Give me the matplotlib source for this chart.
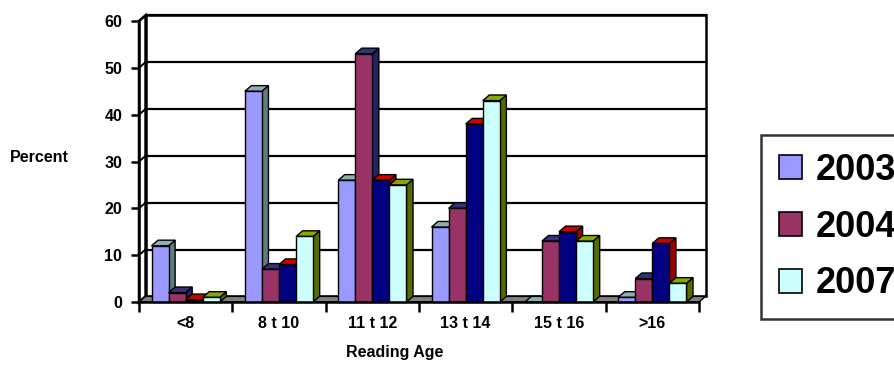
import matplotlib
matplotlib.use("Agg")
import matplotlib.pyplot as plt
from matplotlib.patches import Polygon, Patch

# reading age survey, percent of pupils per band
categories = ['<8', '8 t 10', '11 t 12', '13 t 14', '15 t 16', '>16']
series_names = ['2003', '2004', '2005', '2007']
v2003 = [12, 45, 26, 16, 0, 1]
v2004 = [2, 7, 53, 20, 13, 5]
v2005 = [0.5, 8, 26, 38, 15, 12.5]
v2007 = [1, 14, 25, 43, 13, 4]
values = [v2003, v2004, v2005, v2007]

# front, top, side colours (old excel 3d look)
front = ['#9999FF', '#993366', '#000080', '#CCFFFF']
top = ['#8FAFAF', '#333377', '#CC0000', '#88AA00']
side = ['#5F7F7F', '#222266', '#990000', '#556B00']
in_legend = [True, True, False, True]

font = 'Liberation Sans'

fig = plt.figure(figsize=(8.95, 3.65), dpi=100)
ax = fig.add_axes([139 / 895, 1 - 302 / 365, 560 / 895, 281 / 365])
ax.set_xlim(-0.5, 5.5)
ax.set_ylim(0, 60)

dx = 0.07   # depth offset in x (data units)
dy = 1.2    # depth offset in y (data units)
lw = 1.0

# back wall
wall = Polygon([(-0.5 + dx, dy), (5.5 + dx, dy), (5.5 + dx, 60 + dy), (-0.5 + dx, 60 + dy)],
               closed=True, fc='white', ec='black', lw=1.8, clip_on=False, zorder=1)
ax.add_patch(wall)
# left wall
lwall = Polygon([(-0.5, 0), (-0.5 + dx, dy), (-0.5 + dx, 60 + dy), (-0.5, 60)],
                closed=True, fc='white', ec='black', lw=1.8, clip_on=False, zorder=1)
ax.add_patch(lwall)
for g in range(10, 61, 10):
    ax.plot([-0.5 + dx, 5.5 + dx], [g + dy, g + dy], color='black', lw=1.6,
            clip_on=False, zorder=1.2)
    ax.plot([-0.5, -0.5 + dx], [g, g + dy], color='black', lw=1.4,
            clip_on=False, zorder=1.2)

# floor
floor = Polygon([(-0.5, 0), (5.5, 0), (5.5 + dx, dy), (-0.5 + dx, dy)],
                closed=True, fc='#808080', ec='black', lw=1.0, clip_on=False, zorder=1.5)
ax.add_patch(floor)

# bars
w = 0.183
n = len(values)
for i in range(len(categories)):
    x_start = i - n * w / 2
    for s in range(n):
        v = values[s][i]
        x0 = x_start + s * w
        z = 2 + s * 0.01
        ax.add_patch(Polygon([(x0 + w, 0), (x0 + w + dx, dy), (x0 + w + dx, v + dy), (x0 + w, v)],
                             closed=True, fc=side[s], ec='black', lw=lw, clip_on=False, zorder=z))
        ax.add_patch(Polygon([(x0, v), (x0 + w, v), (x0 + w + dx, v + dy), (x0 + dx, v + dy)],
                             closed=True, fc=top[s], ec='black', lw=lw, clip_on=False, zorder=z))
        ax.add_patch(Polygon([(x0, 0), (x0 + w, 0), (x0 + w, v), (x0, v)],
                             closed=True, fc=front[s], ec='black', lw=lw, clip_on=False, zorder=z))

# axes
ax.patch.set_visible(False)
for sp in ['top', 'right']:
    ax.spines[sp].set_visible(False)
for sp in ['left', 'bottom']:
    ax.spines[sp].set_linewidth(1.8)
    ax.spines[sp].set_zorder(3)

ax.set_yticks(range(0, 61, 10))
ax.tick_params(axis='y', length=6, width=1.8, pad=6)
ax.set_xticks(range(len(categories)))
ax.set_xticklabels(categories)
ax.set_xticks([i - 0.5 for i in range(len(categories) + 1)], minor=True)
ax.tick_params(axis='x', which='major', length=0, pad=10)
ax.tick_params(axis='x', which='minor', length=7, width=1.8)
for t in ax.get_xticklabels() + ax.get_yticklabels():
    t.set_family(font)
    t.set_fontweight('bold')
    t.set_fontsize(11.5)

fig.text(10 / 895, 1 - 158 / 365, 'Percent', family=font, fontweight='bold',
         fontsize=11.5, va='center', ha='left')
fig.text(395 / 895, 1 - 353 / 365, 'Reading Age', family=font, fontweight='bold',
         fontsize=11.5, va='center', ha='center')

handles = [Patch(fc=front[s], ec='black', lw=1.2) for s in range(n) if in_legend[s]]
labels = [series_names[s] for s in range(n) if in_legend[s]]
leg = fig.legend(handles, labels, loc='upper left', bbox_to_anchor=(761 / 895, 1 - 135 / 365),
                 prop={'weight': 'bold', 'size': 26, 'family': font},
                 frameon=True, fancybox=False, edgecolor='black', handlelength=0.64,
                 handleheight=0.64, handletextpad=0.38, labelspacing=0.6, borderpad=0.5,
                 borderaxespad=0)
leg.get_frame().set_linewidth(1.8)

fig.savefig('out.png', dpi=100)
